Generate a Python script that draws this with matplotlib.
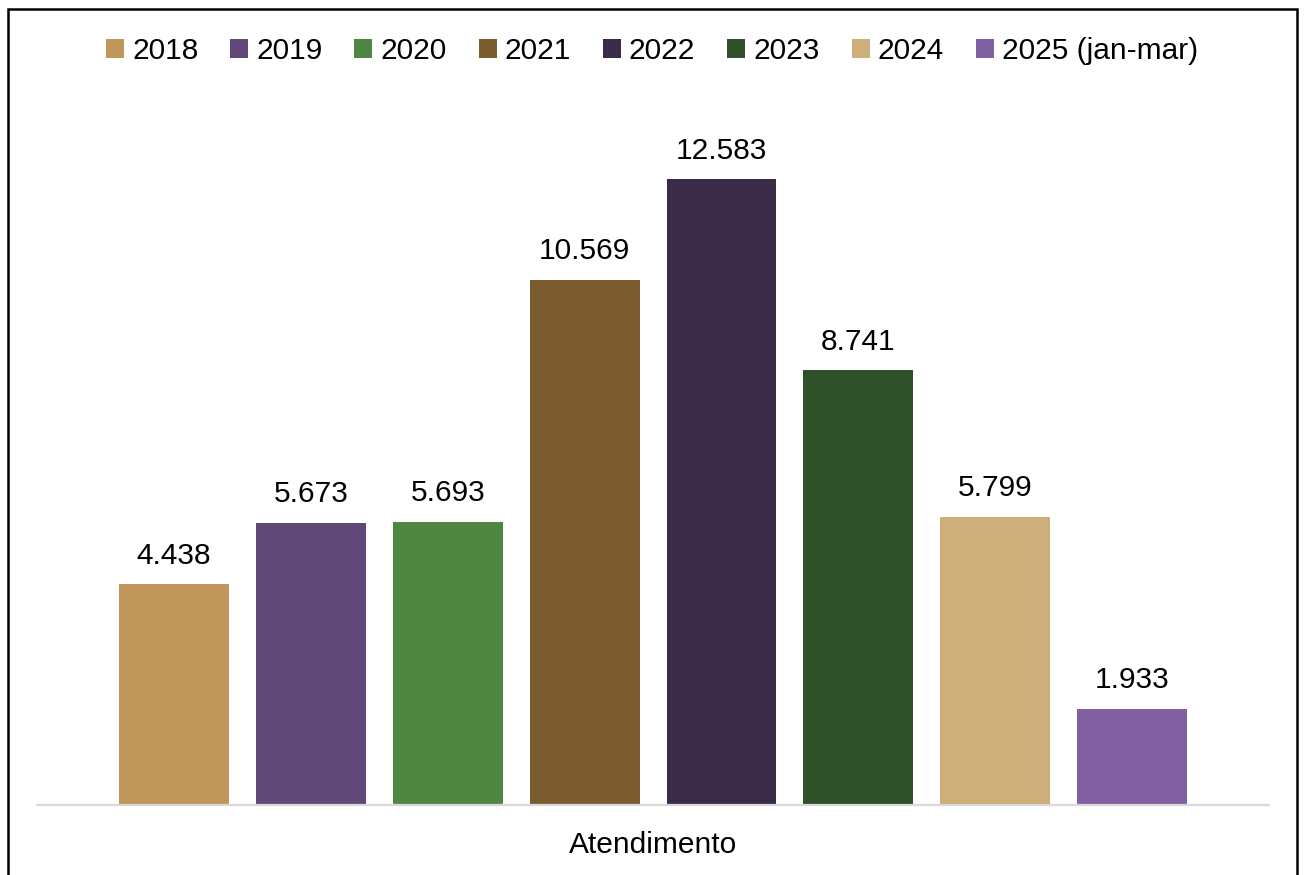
import matplotlib.pyplot as plt
from matplotlib.patches import Rectangle

plt.rcParams['font.family'] = ['Liberation Sans', 'DejaVu Sans']

anos = ['2018', '2019', '2020', '2021', '2022', '2023', '2024', '2025 (jan-mar)']
valores = [4438, 5673, 5693, 10569, 12583, 8741, 5799, 1933]
rotulos = ['4.438', '5.673', '5.693', '10.569', '12.583', '8.741', '5.799', '1.933']
cores = ['#C0965A', '#604878', '#4E8642', '#7B5C2E', '#3A2B48', '#30502A', '#CEAE7A', '#8060A0']
categoria = 'Atendimento'

fig = plt.figure(figsize=(13.04, 8.75), dpi=100)
ax = fig.add_axes([0.0284, 0.08, 0.9448, 0.7954])

for i in range(len(anos)):
    b = ax.bar(i, valores[i], width=110 / 137, color=cores[i], label=anos[i])
    ax.annotate(rotulos[i], (i, valores[i]), xytext=(0, 15), textcoords='offset points',
                ha='center', va='baseline', fontsize=21.5, color='#000000')

ax.set_xlim(-1, 8)
ax.set_ylim(0, 14000)
ax.set_yticks([])
ax.set_xticks([3.5])
ax.set_xticklabels([categoria], fontsize=21.5)
ax.tick_params(axis='x', length=0, pad=19)
for s in ['top', 'right', 'left']:
    ax.spines[s].set_visible(False)
ax.spines['bottom'].set_color('#d9d9d9')
ax.spines['bottom'].set_linewidth(1.6)

leg = fig.legend(loc='center', bbox_to_anchor=(0.5, 1 - 51 / 875), ncol=8, frameon=False,
                 fontsize=21.5, handlelength=0.6, handleheight=0.6, handletextpad=0.27,
                 columnspacing=1.07)

# moldura preta
fig.patches.append(Rectangle((8 / 1304, -0.01), (1297 - 8) / 1304, 1 - 9 / 875 + 0.01,
                             transform=fig.transFigure, fill=False, edgecolor='black',
                             linewidth=1.8))

fig.savefig('out.png', dpi=100)
